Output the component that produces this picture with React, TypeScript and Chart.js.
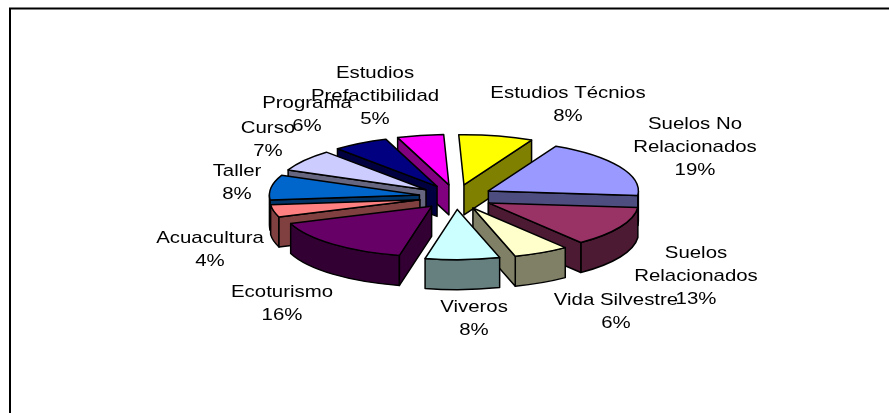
import React, { useEffect, useRef } from "react";
import { Chart, registerables } from "chart.js";

Chart.register(...registerables);

const categories = [
  "Estudios Técnios",
  "Suelos No Relacionados",
  "Suelos Relacionados",
  "Vida Silvestre",
  "Viveros",
  "Ecoturismo",
  "Acuacultura",
  "Taller",
  "Curso",
  "Programa",
  "Estudios Prefactibilidad",
];
const shares = [8, 19, 13, 6, 8, 16, 4, 8, 7, 6, 5];
const topColors = [
  "#FFFF00", "#9999FF", "#993366", "#FFFFCC", "#CCFFFF", "#660066",
  "#FF8080", "#0066CC", "#CCCCFF", "#000080", "#FF00FF",
];
const wallColors = [
  "#808000", "#4D4D80", "#4D1A33", "#808066", "#668080", "#330033",
  "#804040", "#003366", "#666680", "#000040", "#800080",
];
const labelLines = [
  ["Estudios Técnios"],
  ["Suelos No", "Relacionados"],
  ["Suelos", "Relacionados"],
  ["Vida Silvestre"],
  ["Viveros"],
  ["Ecoturismo"],
  ["Acuacultura"],
  ["Taller"],
  ["Curso"],
  ["Programa"],
  ["Estudios", "Prefactibilidad"],
];
// layout: centre x and first line y of each label block
const labelX = [568, 695, 696, 616, 474, 282, 210, 237, 268, 307, 375];
const labelY = [93, 124, 253, 300, 307, 292, 238, 171, 128, 103, 73];

const SQUASH = 0.335;
const DEPTH = 30;
const EXPLODE = 37;

const pie3d = {
  id: "pie3d",
  beforeDatasetsDraw(chart: any) {
    const ctx: CanvasRenderingContext2D = chart.ctx;
    const arcs: any[] = chart.getDatasetMeta(0).data;
    const items = arcs.map((arc, i) => {
      const p = arc.getProps(["x", "y", "startAngle", "endAngle", "outerRadius"]);
      const mid = (p.startAngle + p.endAngle) / 2;
      const off = (arc.options.offset || 0) / 4;
      return {
        arc, i, s: p.startAngle, e: p.endAngle, mid,
        cx: p.x, cy: p.y,
        ax: p.x + Math.cos(mid) * off,
        ay: p.y + Math.sin(mid) * off,
        r: p.outerRadius,
      };
    });
    items.sort((a, b) => Math.sin(a.mid) - Math.sin(b.mid));
    const d = DEPTH / SQUASH;

    for (const it of items) {
      const paint = (build: () => void, fill: string) => {
        ctx.save();
        ctx.translate(it.cx, it.cy);
        ctx.scale(1, SQUASH);
        ctx.translate(-it.cx, -it.cy);
        ctx.beginPath();
        build();
        ctx.restore();
        ctx.fillStyle = fill;
        ctx.fill();
        ctx.strokeStyle = "#000";
        ctx.lineWidth = 1.5;
        ctx.lineJoin = "round";
        ctx.stroke();
      };
      const radial = (ang: number) => () => {
        const px = it.ax + Math.cos(ang) * it.r;
        const py = it.ay + Math.sin(ang) * it.r;
        ctx.moveTo(it.ax, it.ay);
        ctx.lineTo(px, py);
        ctx.lineTo(px, py + d);
        ctx.lineTo(it.ax, it.ay + d);
        ctx.closePath();
      };
      const top = () => {
        ctx.moveTo(it.ax, it.ay);
        ctx.arc(it.ax, it.ay, it.r, it.s, it.e);
        ctx.closePath();
      };
      const wall = wallColors[it.i];
      // only the walls that face the viewer are drawn
      const from = Math.max(it.s, 0);
      const to = Math.min(it.e, Math.PI);
      if (from < to) {
        paint(() => {
          ctx.arc(it.ax, it.ay, it.r, from, to);
          ctx.arc(it.ax, it.ay + d, it.r, to, from, true);
          ctx.closePath();
        }, wall);
      }
      if (-Math.cos(it.s) > 0.1) paint(radial(it.s), wall);
      if (Math.cos(it.e) > 0.1) paint(radial(it.e), wall);
      paint(top, it.arc.options.backgroundColor);
    }
    return false;
  },
  afterDraw(chart: any) {
    const ctx: CanvasRenderingContext2D = chart.ctx;
    ctx.save();
    ctx.fillStyle = "#000";
    ctx.fillRect(9, 7.5, 880, 2);
    ctx.fillRect(9, 8, 2, 405);
    ctx.font = '17px "Liberation Sans"';
    ctx.textAlign = "center";
    ctx.textBaseline = "middle";
    categories.forEach((_, i) => {
      const lines = [...labelLines[i], `${shares[i]}%`];
      lines.forEach((t, j) => {
        ctx.save();
        ctx.translate(labelX[i], labelY[i] + j * 23);
        ctx.scale(1.2, 1);
        ctx.fillText(t, 0, 0);
        ctx.restore();
      });
    });
    ctx.restore();
  },
};

export default function App() {
  const ref = useRef<HTMLCanvasElement>(null);
  useEffect(() => {
    const chart = new Chart(ref.current!, {
      type: "pie",
      data: {
        labels: categories,
        datasets: [
          {
            data: shares,
            backgroundColor: topColors,
            borderWidth: 0,
            offset: EXPLODE * 4,
          },
        ],
      },
      options: {
        responsive: false,
        animation: false,
        rotation: -2,
        radius: 150,
        layout: { padding: { left: 23, right: 0, top: 0, bottom: 19 } },
        plugins: { legend: { display: false }, tooltip: { enabled: false } },
      },
      plugins: [pie3d],
    } as any);
    return () => chart.destroy();
  }, []);
  return (
    <div style={{ position: "fixed", left: 0, top: 0, width: 889, height: 413, background: "#fff" }}>
      <canvas ref={ref} width={889} height={413} style={{ display: "block" }} />
    </div>
  );
}
